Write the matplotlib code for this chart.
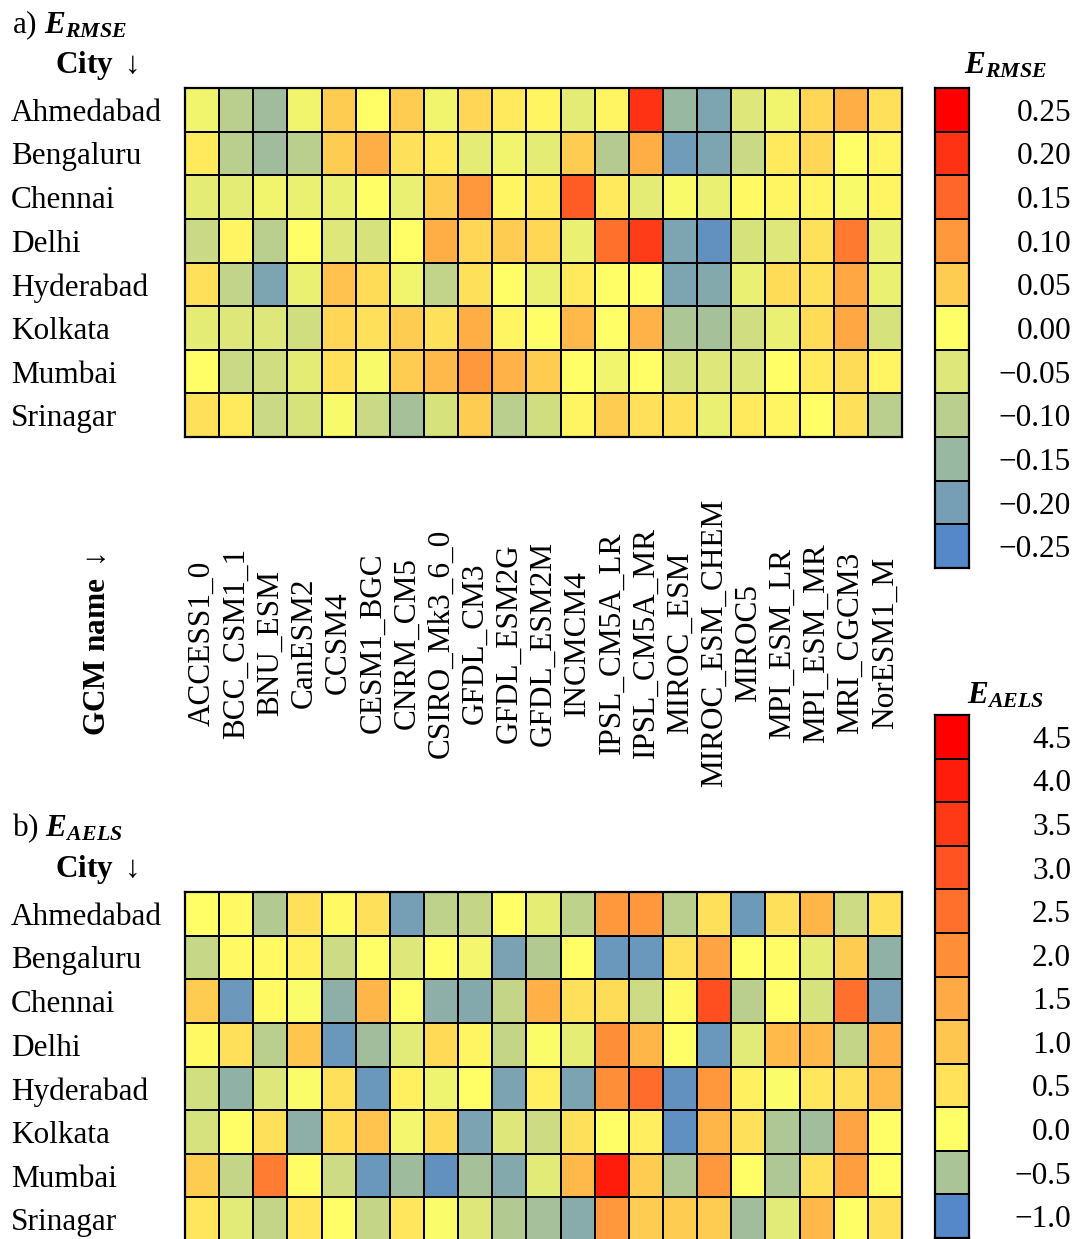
import numpy as np
import matplotlib
matplotlib.use('Agg')
import matplotlib.pyplot as plt
from matplotlib import transforms
from matplotlib.colors import LinearSegmentedColormap, TwoSlopeNorm

plt.rcParams['font.family'] = ['Liberation Serif', 'DejaVu Serif']
plt.rcParams['mathtext.fontset'] = 'custom'
plt.rcParams['mathtext.rm'] = 'Liberation Serif'
plt.rcParams['mathtext.it'] = 'Liberation Serif:italic'
plt.rcParams['mathtext.bf'] = 'Liberation Serif:bold'
plt.rcParams['mathtext.bfit'] = 'Liberation Serif:italic:bold'

# data
cities = ['Ahmedabad', 'Bengaluru', 'Chennai', 'Delhi',
          'Hyderabad', 'Kolkata', 'Mumbai', 'Srinagar']
gcms = ['ACCESS1_0', 'BCC_CSM1_1', 'BNU_ESM', 'CanESM2', 'CCSM4', 'CESM1_BGC',
        'CNRM_CM5', 'CSIRO_Mk3_6_0', 'GFDL_CM3', 'GFDL_ESM2G', 'GFDL_ESM2M',
        'INCMCM4', 'IPSL_CM5A_LR', 'IPSL_CM5A_MR', 'MIROC_ESM', 'MIROC_ESM_CHEM',
        'MIROC5', 'MPI_ESM_LR', 'MPI_ESM_MR', 'MRI_CGCM3', 'NorESM1_M']

e_rmse = np.array([
    [-0.02, -0.10, -0.14, -0.02, 0.05, 0.00, 0.05, -0.02, 0.04, 0.02, 0.01,
     -0.04, 0.01, 0.20, -0.15, -0.19, -0.05, -0.02, 0.04, 0.08, 0.03],
    [0.02, -0.10, -0.14, -0.10, 0.05, 0.08, 0.03, 0.02, -0.04, -0.02, -0.04,
     0.05, -0.11, 0.08, -0.21, -0.19, -0.08, 0.02, 0.04, 0.00, 0.01],
    [-0.04, -0.04, -0.02, -0.03, -0.03, 0.00, -0.03, 0.05, 0.10, 0.01, 0.02,
     0.16, 0.02, -0.04, -0.01, -0.03, 0.005, 0.01, 0.01, -0.01, 0.01],
    [-0.08, 0.01, -0.10, 0.00, -0.05, -0.06, 0.00, 0.08, 0.04, 0.05, 0.04,
     -0.03, 0.14, 0.19, -0.19, -0.23, -0.06, -0.05, 0.03, 0.13, -0.03],
    [0.03, -0.09, -0.19, -0.03, 0.06, 0.035, -0.02, -0.09, 0.03, 0.00, -0.03,
     0.02, 0.00, 0.00, -0.19, -0.18, -0.03, 0.035, 0.03, 0.085, -0.03],
    [-0.04, -0.05, -0.05, -0.07, 0.04, 0.03, 0.05, 0.03, 0.08, 0.01, 0.00,
     0.07, 0.00, 0.075, -0.12, -0.13, -0.07, -0.03, 0.035, 0.085, -0.06],
    [0.00, -0.08, -0.07, -0.04, 0.03, -0.01, 0.05, 0.07, 0.10, 0.075, 0.05,
     0.00, -0.02, 0.00, -0.06, -0.05, -0.05, 0.00, 0.02, 0.035, 0.01],
    [0.03, 0.02, -0.08, -0.06, -0.01, -0.08, -0.13, -0.06, 0.05, -0.10, -0.07,
     0.01, 0.05, 0.03, 0.03, -0.03, 0.02, 0.01, 0.00, 0.03, -0.10],
])

e_aels = np.array([
    [0.0, 0.1, -0.45, 0.55, 0.1, 0.55, -0.8, -0.38, -0.35, 0.0, -0.15,
     -0.38, 1.8, 1.8, -0.4, 0.55, -0.85, 0.55, 1.3, -0.3, 0.55],
    [-0.33, 0.1, 0.1, 0.25, -0.3, 0.0, -0.2, 0.0, -0.07, -0.78, -0.45,
     0.0, -0.87, -0.87, 0.55, 1.6, 0.0, 0.05, -0.15, 0.9, -0.65],
    [0.9, -0.86, 0.1, -0.03, -0.67, 1.3, 0.0, -0.67, -0.72, -0.35, 1.4,
     0.55, 0.6, -0.3, 0.1, 3.1, -0.4, 0.0, -0.25, 2.5, -0.8],
    [0.1, 0.55, -0.4, 1.0, -0.87, -0.55, -0.17, 0.65, 0.2, -0.35, -0.03,
     -0.15, 2.0, 1.3, 0.0, -0.87, -0.17, 1.2, 1.25, -0.35, 1.4],
    [-0.27, -0.65, -0.2, -0.03, 0.55, -0.87, 0.25, -0.1, 0.0, -0.77, 0.3,
     -0.77, 2.0, 2.6, -0.92, 1.8, 0.25, -0.03, 0.45, 0.55, 1.2],
    [-0.25, 0.0, 0.55, -0.67, 0.65, 1.05, -0.07, 0.65, -0.77, -0.2, -0.3,
     0.55, 0.0, 0.3, -0.93, 1.3, 0.55, -0.47, -0.55, 1.6, 0.0],
    [0.9, -0.35, 2.3, 0.07, -0.3, -0.87, -0.57, -0.92, -0.52, -0.72, -0.17,
     1.25, 4.0, 0.9, -0.47, 1.8, 0.0, -0.47, 0.55, 1.7, 0.0],
    [0.45, -0.17, -0.35, 0.45, 0.0, -0.35, 0.45, -0.03, -0.2, -0.45, -0.53,
     -0.7, 1.8, 0.9, 0.9, 0.9, -0.55, -0.17, 1.25, 0.0, 0.55],
])

rmse_levels = [-0.25, -0.20, -0.15, -0.10, -0.05, 0.00, 0.05, 0.10, 0.15, 0.20, 0.25]
aels_levels = [-1.0, -0.5, 0.0, 0.5, 1.0, 1.5, 2.0, 2.5, 3.0, 3.5, 4.0, 4.5]

cmap = LinearSegmentedColormap.from_list('byr', ['#5588c8', '#ffff66', '#ff0000'])
FS = 22.5

W, H = 1076, 1239
fig = plt.figure(figsize=(W / 100, H / 100), dpi=100)


def px(x0, y0, w, h):
    # pixel box (top-left origin) -> figure fraction
    return [x0 / W, 1 - (y0 + h) / H, w / W, h / H]


def heatmap(ax, data, norm):
    ax.pcolormesh(data, cmap=cmap, norm=norm, edgecolors='k', linewidth=1.3)
    ax.set_xlim(0, data.shape[1])
    ax.set_ylim(data.shape[0], 0)
    ax.set_xticks([])
    ax.set_yticks(np.arange(len(cities)) + 0.5)
    ax.set_yticklabels(cities, fontsize=FS)
    for lab in ax.get_yticklabels():
        lab.set_ha('left')
    ax.tick_params(axis='y', length=0, pad=125.5)
    for s in ax.spines.values():
        s.set_linewidth(1.6)


def colorbar(ax, levels, norm, fmt):
    vals = np.array(levels).reshape(-1, 1)
    ax.pcolormesh(vals, cmap=cmap, norm=norm, edgecolors='k', linewidth=1.3)
    ax.set_xlim(0, 1)
    ax.set_ylim(0, len(levels))
    ax.set_xticks([])
    ax.yaxis.set_ticks_position('right')
    ax.set_yticks(np.arange(len(levels)) + 0.5)
    ax.set_yticklabels([fmt.format(v).replace('-', '\u2212') for v in levels], fontsize=FS)
    for lab in ax.get_yticklabels():
        lab.set_ha('right')
    ax.tick_params(axis='y', length=0, pad=73.5)
    for s in ax.spines.values():
        s.set_linewidth(1.6)


norm_r = TwoSlopeNorm(vmin=-0.25, vcenter=0, vmax=0.25)
norm_a = TwoSlopeNorm(vmin=-1.0, vcenter=0, vmax=4.5)

ax1 = fig.add_axes(px(185, 88, 717, 349))
heatmap(ax1, e_rmse, norm_r)
cax1 = fig.add_axes(px(935, 88, 34, 480))
colorbar(cax1, rmse_levels, norm_r, '{:.2f}')

ax2 = fig.add_axes(px(185, 892, 717, 349))
heatmap(ax2, e_aels, norm_a)
cax2 = fig.add_axes(px(935, 715, 34, 523))
colorbar(cax2, aels_levels, norm_a, '{:.1f}')

# titles and labels
fig.text(12 / W, 1 - 25 / H, r'a) $\mathbfit{E}_{\mathbfit{RMSE}}$', fontsize=FS,
         ha='left', va='center')
fig.text(97 / W, 1 - 66 / H, r'City $\downarrow$', fontsize=FS, fontweight='bold',
         ha='center', va='center')
fig.text(1006 / W, 1 - 66 / H, r'$\mathbfit{E}_{\mathbfit{RMSE}}$', fontsize=FS,
         ha='center', va='center')

fig.text(12 / W, 1 - 828 / H, r'b) $\mathbfit{E}_{\mathbfit{AELS}}$', fontsize=FS,
         ha='left', va='center')
fig.text(97 / W, 1 - 870 / H, r'City $\downarrow$', fontsize=FS, fontweight='bold',
         ha='center', va='center')
fig.text(1006 / W, 1 - 696 / H, r'$\mathbfit{E}_{\mathbfit{AELS}}$', fontsize=FS,
         ha='center', va='center')

# GCM names between the panels
trans = transforms.blended_transform_factory(ax1.transData, fig.transFigure)
for i, name in enumerate(gcms):
    fig.text(i + 0.5, 1 - 643 / H, name, transform=trans, rotation=90,
             fontsize=FS, ha='center', va='center')
fig.text(97 / W, 1 - 645 / H, r'GCM name $\downarrow$', rotation=90, fontsize=FS,
         fontweight='bold', ha='center', va='center')

fig.savefig('out.png', dpi=100)
